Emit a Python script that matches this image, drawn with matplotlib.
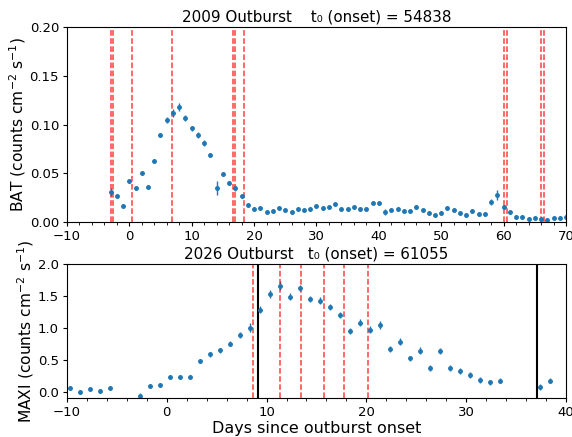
import numpy as np
import matplotlib
matplotlib.use("Agg")
import matplotlib.pyplot as plt
from matplotlib.ticker import AutoMinorLocator

# 2009 outburst, BAT daily rates (days since onset)
bat_t = np.arange(-3, 71)
bat_rate = [0.031, 0.027, 0.016, 0.042, 0.035, 0.050, 0.036, 0.063, 0.089, 0.105,
            0.112, 0.118, 0.107, 0.096, 0.089, 0.081, 0.069, 0.035, 0.049, 0.040,
            0.035, 0.027, 0.017, 0.013, 0.014, 0.010, 0.011, 0.014, 0.012, 0.010,
            0.013, 0.012, 0.013, 0.016, 0.014, 0.015, 0.018, 0.013, 0.013, 0.015,
            0.013, 0.013, 0.020, 0.019, 0.010, 0.012, 0.013, 0.011, 0.011, 0.015,
            0.012, 0.009, 0.007, 0.009, 0.014, 0.012, 0.009, 0.007, 0.011, 0.008,
            0.0085, 0.0205, 0.0274, 0.015, 0.010, 0.0055, 0.0048, 0.0034, 0.0044, 0.0034,
            0.002, 0.0041, 0.0038, 0.0055]
bat_err = [0.004, 0.002, 0.002, 0.002, 0.002, 0.002, 0.002, 0.002, 0.002, 0.003,
           0.004, 0.004, 0.003, 0.003, 0.003, 0.003, 0.002, 0.007, 0.002, 0.002,
           0.003, 0.002, 0.002, 0.002, 0.002, 0.002, 0.002, 0.002, 0.002, 0.002,
           0.002, 0.002, 0.002, 0.002, 0.002, 0.002, 0.002, 0.002, 0.002, 0.002,
           0.002, 0.002, 0.002, 0.002, 0.003, 0.002, 0.002, 0.002, 0.002, 0.002,
           0.002, 0.002, 0.002, 0.002, 0.002, 0.002, 0.002, 0.002, 0.002, 0.002,
           0.002, 0.003, 0.005, 0.002, 0.002, 0.002, 0.002, 0.002, 0.002, 0.002,
           0.002, 0.002, 0.002, 0.002]
bat_red = [-2.93, -2.69, 0.37, 6.78, 16.6, 16.9, 18.4, 60.1, 60.6, 66.0, 66.5]

# 2026 outburst, MAXI daily rates
maxi_t = [-9.65, -8.65, -7.65, -6.65, -5.65, -2.65, -1.65, -0.65, 0.35, 1.35,
          2.35, 3.35, 4.35, 5.35, 6.35, 7.35, 8.35, 9.35, 10.35, 11.35,
          12.35, 13.35, 14.35, 15.35, 16.35, 17.35, 18.35, 19.35, 20.35, 21.35,
          22.35, 23.35, 24.35, 25.35, 26.35, 27.35, 28.35, 29.35, 30.35, 31.35,
          32.35, 33.35, 37.35, 38.35]
maxi_rate = [0.053, 0.0, 0.042, 0.01, 0.063, -0.067, 0.094, 0.11, 0.235, 0.225,
             0.235, 0.476, 0.586, 0.649, 0.748, 0.889, 0.998, 1.285, 1.531, 1.661,
             1.489, 1.62, 1.448, 1.426, 1.323, 1.197, 0.951, 1.082, 0.972, 1.04,
             0.664, 0.784, 0.523, 0.643, 0.371, 0.633, 0.371, 0.324, 0.262, 0.183,
             0.147, 0.172, 0.074, 0.172]
maxi_err = [0.03, 0.03, 0.03, 0.03, 0.03, 0.05, 0.03, 0.03, 0.03, 0.03,
            0.03, 0.03, 0.04, 0.04, 0.04, 0.05, 0.07, 0.06, 0.06, 0.07,
            0.05, 0.05, 0.05, 0.05, 0.05, 0.05, 0.05, 0.05, 0.05, 0.06,
            0.05, 0.05, 0.04, 0.05, 0.04, 0.05, 0.04, 0.04, 0.04, 0.04,
            0.04, 0.04, 0.04, 0.04]
maxi_red = [8.63, 11.37, 13.5, 15.8, 17.8, 20.16]
maxi_black = [9.13, 37.14]

plt.rcParams['xtick.labelsize'] = 9.5
plt.rcParams['ytick.labelsize'] = 9.5
plt.rcParams['xtick.major.size'] = 3.2
plt.rcParams['ytick.major.size'] = 3.2
plt.rcParams['xtick.minor.size'] = 1.8
plt.rcParams['xtick.major.pad'] = 2.5
plt.rcParams['ytick.major.pad'] = 2.5

fig = plt.figure(figsize=(5.72, 4.37), dpi=100, facecolor="white")
ax1 = fig.add_axes([0.117, 0.492, 0.8725, 0.446])
ax2 = fig.add_axes([0.117, 0.089, 0.8725, 0.307])

ax1.errorbar(bat_t, bat_rate, yerr=bat_err, fmt='o', ms=2.5, color='tab:blue', elinewidth=1)
for xv in bat_red:
    ax1.axvline(xv, color='red', ls='--', lw=1.1, alpha=0.75)
ax1.set_xlim(-10, 70)
ax1.set_ylim(0, 0.2)
ax1.set_yticks([0.0, 0.05, 0.10, 0.15, 0.20])
ax1.xaxis.set_minor_locator(AutoMinorLocator(5))
ax1.set_ylabel("BAT (counts cm$^{-2}$ s$^{-1}$)", fontsize=11.2, labelpad=1)
ax1.set_title("2009 Outburst    t\u2080 (onset) = 54838", fontsize=10.9, pad=4)

ax2.errorbar(maxi_t, maxi_rate, yerr=maxi_err, fmt='o', ms=2.5, color='tab:blue', elinewidth=1)
for xv in maxi_red:
    ax2.axvline(xv, color='red', ls='--', lw=1.1, alpha=0.75)
for xv in maxi_black:
    ax2.axvline(xv, color='black', lw=1.5)
ax2.set_xlim(-10, 40)
ax2.set_ylim(-0.1, 2.0)
ax2.set_yticks([0.0, 0.5, 1.0, 1.5, 2.0])
ax2.xaxis.set_minor_locator(AutoMinorLocator(5))
ax2.set_ylabel("MAXI (counts cm$^{-2}$ s$^{-1}$)", fontsize=11.2, labelpad=1)
ax2.set_xlabel("Days since outburst onset", fontsize=11.5, labelpad=1.5)
ax2.set_title("2026 Outburst   t\u2080 (onset) = 61055", fontsize=10.9, pad=4)

plt.savefig("out.png", dpi=100)
